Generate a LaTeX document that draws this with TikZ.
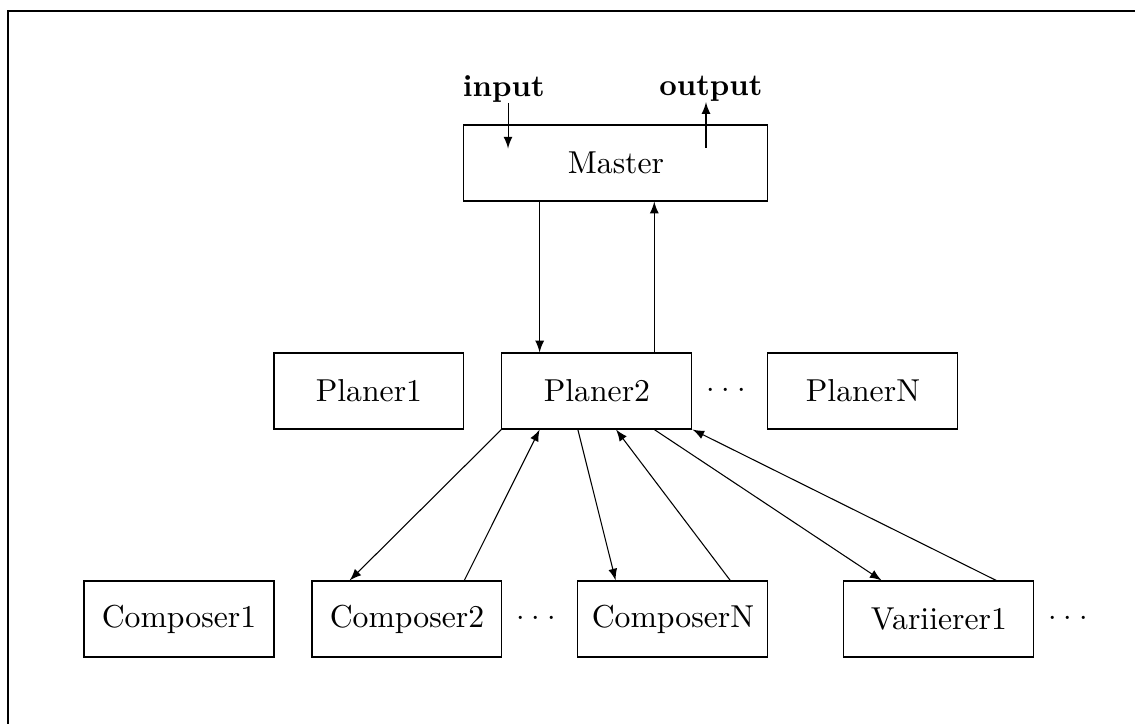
\documentclass[tikz,border=0pt]{standalone}
\usetikzlibrary{calc}

\tikzset{
  box/.style={draw, line width=0.35pt, inner sep=0pt, minimum width=2.19cm, minimum height=0.876cm,
    font=\fontsize{10.4pt}{12pt}\selectfont},
  wide box/.style={box, minimum width=3.504cm},
  dots/.style={right, inner sep=4.5pt}
}

\begin{document}
\begin{tikzpicture}[x=0.438cm, y=0.438cm, >=latex, line width=0.35pt]
        \useasboundingbox (-0.21,0.29) rectangle (29.66,-18.76);
        % frame
        \draw[line width=0.8pt] (0,-20) -- (0,0) -- (31,0);

        \node[wide box] (master) at (16,-4) {Master};
        \node[inner sep=0pt] (in) at (13.05,-2.05) {\textbf{input}};
        \node[inner sep=0pt] (out) at (18.5,-2.05) {\textbf{output}};
        \coordinate (inEnd) at (13.16,-3.62);
        \coordinate (outStart) at (18.37,-3.6);
        \draw[->] (inEnd |- in.south) -- (inEnd);
        \draw[->] (outStart) -- (outStart |- out.south);

        % planers
        \node[box] (planer1) at (9.5,-10) {Planer1};
        \node[box] (planer2) at (15.5,-10) {Planer2};
        \node[box] (planerN) at (22.5,-10) {PlanerN};
        \node[dots] (dotsP) at (planer2.east) {$\cdot\cdot\cdot$};

        % composers and variierer
        \node[box] (composer1) at (4.5,-16) {Composer1};
        \node[box] (composer2) at (10.5,-16) {Composer2};
        \node[box] (composerN) at (17.5,-16) {ComposerN};
        \node[box] (variierer1) at (24.5,-16) {Variierer1};
        \node[dots] (dotsC) at (composer2.east) {$\cdot\cdot\cdot$};
        \node[dots] (dotsV) at (variierer1.east) {$\cdot\cdot\cdot$};

        % master <-> planer2
        \coordinate (p2in) at ($(planer2.north west)!0.2!(planer2.north east)$);
        \coordinate (p2out) at ($(planer2.north west)!0.8!(planer2.north east)$);
        \draw[->] (master.south -| p2in) -- (p2in);
        \draw[->] (p2out) -- (master.south -| p2out);

        % planer2 <-> workers
        \draw[->] (planer2.south west) -- ($(composer2.north west)!0.2!(composer2.north east)$);
        \draw[->] ($(composer2.north west)!0.8!(composer2.north east)$) -- ($(planer2.south west)!0.2!(planer2.south east)$);
        \draw[->] ($(planer2.south west)!0.4!(planer2.south east)$) -- ($(composerN.north west)!0.2!(composerN.north east)$);
        \draw[->] ($(composerN.north west)!0.8!(composerN.north east)$) -- ($(planer2.south west)!0.6!(planer2.south east)$);
        \draw[->] ($(planer2.south west)!0.8!(planer2.south east)$) -- ($(variierer1.north west)!0.2!(variierer1.north east)$);
        \draw[->] ($(variierer1.north west)!0.8!(variierer1.north east)$) -- (planer2.south east);
\end{tikzpicture}
\end{document}
